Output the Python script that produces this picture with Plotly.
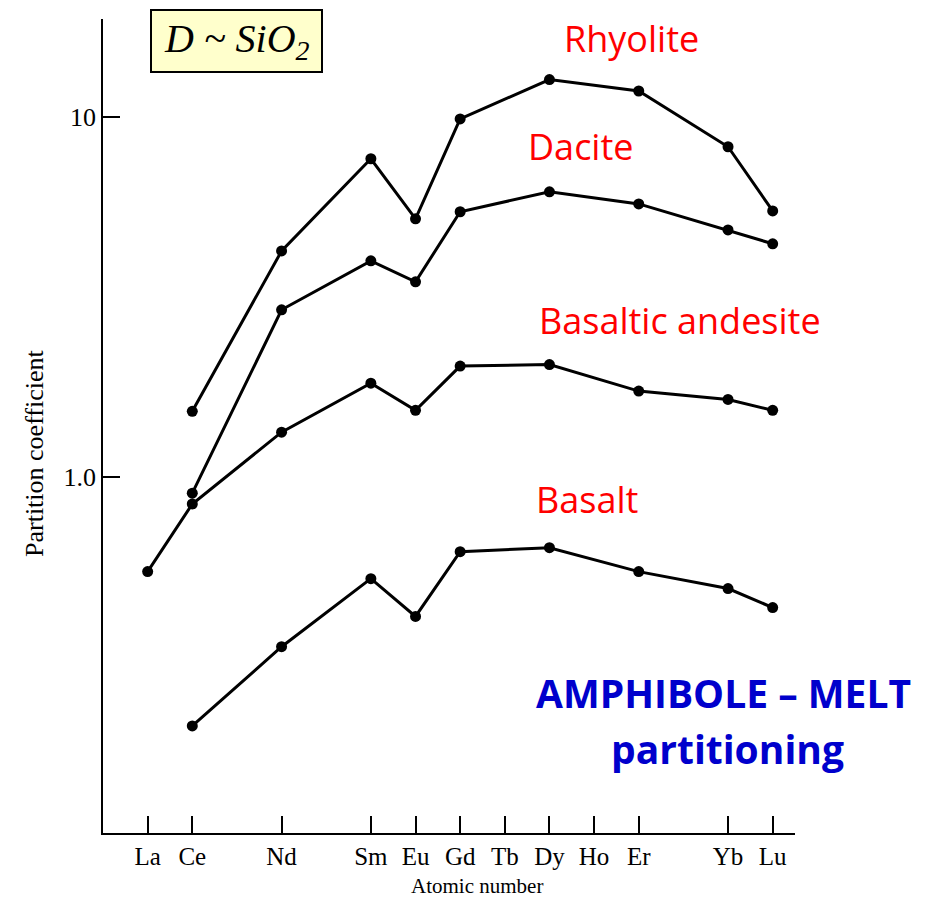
import plotly.graph_objects as go

# Rare earth elements and their atomic numbers
elements = ["La", "Ce", "Nd", "Sm", "Eu", "Gd", "Tb", "Dy", "Ho", "Er", "Yb", "Lu"]
atomic_numbers = [57, 58, 60, 62, 63, 64, 65, 66, 67, 68, 70, 71]

# Amphibole/melt partition coefficients for each host-melt composition
rhyolite_z = [58, 60, 62, 63, 64, 66, 68, 70, 71]
rhyolite_d = [1.52, 4.24, 7.65, 5.21, 9.87, 12.7, 11.8, 8.26, 5.48]

dacite_z = [58, 60, 62, 63, 64, 66, 68, 70, 71]
dacite_d = [0.90, 2.91, 3.98, 3.48, 5.45, 6.19, 5.73, 4.85, 4.44]

bas_andesite_z = [57, 58, 60, 62, 63, 64, 66, 68, 70, 71]
bas_andesite_d = [0.545, 0.84, 1.33, 1.82, 1.53, 2.03, 2.05, 1.73, 1.64, 1.53]

basalt_z = [58, 60, 62, 63, 64, 66, 68, 70, 71]
basalt_d = [0.203, 0.337, 0.521, 0.409, 0.619, 0.635, 0.545, 0.489, 0.433]

series = [
    ("Rhyolite", rhyolite_z, rhyolite_d),
    ("Dacite", dacite_z, dacite_d),
    ("Basaltic andesite", bas_andesite_z, bas_andesite_d),
    ("Basalt", basalt_z, basalt_d),
]

W, H = 932, 901
ML, MR, MT, MB = 103, 137, 19, 68

fig = go.Figure()
for name, z, d in series:
    fig.add_trace(go.Scatter(
        x=z, y=d, mode="lines+markers", name=name,
        line=dict(color="black", width=3),
        marker=dict(color="black", size=11),
        showlegend=False,
    ))


def px(x):
    return (x - ML) / (W - ML - MR)


def py(y):
    return (H - MB - y) / (H - MT - MB)


serif = "Liberation Serif"
sans = "Open Sans"
red = "#ff0000"
blue = "#0000cc"

annotations = [
    dict(text="Rhyolite", x=px(631), y=py(38), font=dict(family=sans, size=36, color=red)),
    dict(text="Dacite", x=px(581), y=py(147), font=dict(family=sans, size=36, color=red)),
    dict(text="Basaltic andesite", x=px(680), y=py(320), font=dict(family=sans, size=36, color=red)),
    dict(text="Basalt", x=px(587), y=py(500), font=dict(family=sans, size=36, color=red)),
    dict(text="<b>AMPHIBOLE – MELT</b>", x=px(723), y=py(692), font=dict(family=sans, size=39, color=blue)),
    dict(text="<b>partitioning</b>", x=px(727), y=py(748), font=dict(family=sans, size=39, color=blue)),
    dict(text="<i>D ~ SiO<sub>2</sub></i>", x=px(237), y=py(41), font=dict(family=serif, size=40, color="black")),
    dict(text="Partition coefficient", x=px(34), y=py(453), textangle=-90,
         font=dict(family=serif, size=26, color="black")),
    dict(text="Atomic number", x=px(477), y=py(886), font=dict(family=serif, size=21, color="black")),
]
for a in annotations:
    a.update(xref="paper", yref="paper", showarrow=False, xanchor="center", yanchor="middle")

fig.update_layout(
    width=W, height=H,
    margin=dict(l=ML, r=MR, t=MT, b=MB),
    paper_bgcolor="white", plot_bgcolor="white",
    annotations=annotations,
    shapes=[dict(type="rect", xref="paper", yref="paper",
                 x0=px(151), x1=px(322), y0=py(72), y1=py(10),
                 fillcolor="#ffffcc", line=dict(color="black", width=2), layer="below")],
    xaxis=dict(
        range=[56, 71.5], tickmode="array", tickvals=atomic_numbers, ticktext=elements,
        ticks="inside", ticklen=17, tickwidth=1.5, tickcolor="black",
        showline=True, linecolor="black", linewidth=1.5, showgrid=False, zeroline=False,
        tickfont=dict(family=serif, size=25, color="black"),
    ),
    yaxis=dict(
        type="log", range=[-0.99, 1.272], tickmode="array", tickvals=[1, 10], ticktext=["1.0", "10"],
        ticks="inside", ticklen=17, tickwidth=1.5, tickcolor="black",
        showline=True, linecolor="black", linewidth=1.5, showgrid=False, zeroline=False,
        tickfont=dict(family=serif, size=26, color="black"),
    ),
)

fig.write_html("out.html")
